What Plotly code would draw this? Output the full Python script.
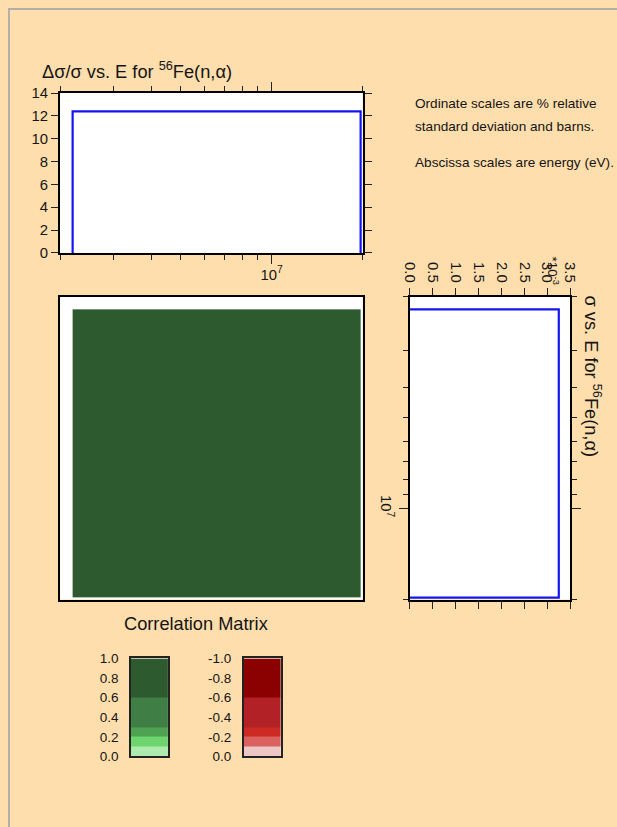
import math
import plotly.graph_objects as go

# ---- data -------------------------------------------------------------
# group boundaries (eV) of the single covariance group
energy_edges = [2.2e6, 1.97e7]
# relative standard deviation (%) in each group
rel_std_pct = [12.4]
# cross section (barns) in each group
xs_barns = [3.25e-3]
# correlation matrix for the groups
correlation = [[1.0]]

# colour key levels and colours
pos_levels = [0.0, 0.1, 0.2, 0.3, 0.6, 1.0]
pos_colors = ["#AEEAAE", "#6ED46E", "#4FA252", "#3F7F46", "#2D5A2E"]
neg_levels = [-1.0, -0.6, -0.3, -0.2, -0.1, 0.0]
neg_colors = ["#8B0000", "#B22125", "#CC2A22", "#DB6060", "#EEC6C6"]
pos_ticks = [0.0, 0.2, 0.4, 0.6, 0.8, 1.0]
neg_ticks = [0.0, -0.2, -0.4, -0.6, -0.8, -1.0]

e_lo, e_hi = 2.0e6, 2.0e7
minor_e = [2e6, 3e6, 4e6, 5e6, 6e6, 7e6, 8e6, 9e6, 2e7]

# page layout: sheet coordinates are converted to figure pixels,
# allowing for the 8 px body margin around the figure
SX, SY = 0.976, 0.982
OFF = 8
W, H = 625, 840
PAGE = "#FFDEAD"
FONT = "Liberation Sans, Arial, sans-serif"
INK = "#151515"


def px(x):
    return (x / SX - OFF) / W


def py(y):
    return 1 - (y / SY - OFF) / H


def fs(size):
    return size / SX


# discrete colour scale over [-1, 1]
bounds = neg_levels + pos_levels[1:]
colors = neg_colors + pos_colors
cscale = []
for i, c in enumerate(colors):
    cscale.append([(bounds[i] + 1) / 2, c])
    cscale.append([(bounds[i + 1] + 1) / 2, c])

fig = go.Figure()

# step outline of relative uncertainty
sx, sy = [], []
for i, v in enumerate(rel_std_pct):
    a, b = energy_edges[i], energy_edges[i + 1]
    sx += [a, a, b, b]
    sy += [0, v, v, 0]
fig.add_trace(go.Scatter(x=sx, y=sy, mode="lines",
                         line=dict(color="#1414F0", width=2.2),
                         xaxis="x", yaxis="y", hoverinfo="skip"))

# correlation matrix
fig.add_trace(go.Heatmap(z=correlation, x=energy_edges, y=energy_edges,
                         zmin=-1, zmax=1, colorscale=cscale, showscale=False,
                         xaxis="x2", yaxis="y2", hoverinfo="skip"))

# cross section, energy running downward
cx, cy = [], []
for i, v in enumerate(xs_barns):
    a, b = energy_edges[i], energy_edges[i + 1]
    cx += [0, v, v, 0]
    cy += [a, a, b, b]
fig.add_trace(go.Scatter(x=cx, y=cy, mode="lines",
                         line=dict(color="#1414F0", width=2.2),
                         xaxis="x3", yaxis="y3", hoverinfo="skip"))

# colour keys
pz = [[(pos_levels[i] + pos_levels[i + 1]) / 2] for i in range(len(pos_colors))]
nz = [[(neg_levels[i] + neg_levels[i + 1]) / 2] for i in range(len(neg_colors))]
fig.add_trace(go.Heatmap(z=pz, x=[0, 1], y=pos_levels, zmin=-1, zmax=1,
                         colorscale=cscale, showscale=False,
                         xaxis="x4", yaxis="y4", hoverinfo="skip"))
fig.add_trace(go.Heatmap(z=nz, x=[0, 1], y=neg_levels, zmin=-1, zmax=1,
                         colorscale=cscale, showscale=False,
                         xaxis="x5", yaxis="y5", hoverinfo="skip"))

tickfont = dict(family=FONT, size=fs(14.5), color=INK)
frame = dict(showline=True, linecolor="black", linewidth=2, mirror="ticks",
             showgrid=False, zeroline=False, tickcolor="#222", tickwidth=1.3,
             tickfont=tickfont)
lg = [math.log10(e_lo), math.log10(e_hi)]
e_minor = dict(tickvals=minor_e, ticklen=5, tickcolor="#222", tickwidth=1.3,
               showgrid=False)

top_x = [px(60), px(363)]
mat_y = [py(600), py(297)]
key_font = dict(family=FONT, size=fs(13.2), color=INK)

fig.update_layout(
    width=W, height=H, margin=dict(l=0, r=0, t=0, b=0),
    paper_bgcolor=PAGE, plot_bgcolor="white", showlegend=False,
    font=dict(family=FONT, color=INK),
    xaxis=dict(domain=top_x, anchor="y", type="log", range=lg,
               ticks="outside", ticklen=9, tickvals=[1e7],
               ticktext=["10<sup>7</sup>"], minor=e_minor,
               ticklabelstandoff=-2, **frame),
    yaxis=dict(domain=[py(253), py(93)], anchor="x", range=[0, 14],
               tickvals=[0, 2, 4, 6, 8, 10, 12, 14], ticks="outside",
               ticklen=7, **frame),
    xaxis2=dict(domain=top_x, anchor="y2", type="log", range=lg,
                showticklabels=False, ticks="", showline=True,
                linecolor="black", linewidth=2, mirror=True,
                showgrid=False, zeroline=False),
    yaxis2=dict(domain=mat_y, anchor="x2", type="log", range=lg[::-1],
                showticklabels=False, ticks="", showline=True,
                linecolor="black", linewidth=2, mirror=True,
                showgrid=False, zeroline=False),
    xaxis3=dict(domain=[px(410), px(571)], anchor="y3", side="top",
                range=[0, 3.5e-3],
                tickvals=[0, 0.5e-3, 1e-3, 1.5e-3, 2e-3, 2.5e-3, 3e-3, 3.5e-3],
                ticktext=["0.0", "0.5", "1.0", "1.5", "2.0", "2.5", "3.0", "3.5"],
                tickangle=90, ticks="outside", ticklen=7, **frame),
    yaxis3=dict(domain=mat_y, anchor="x3", type="log", range=lg[::-1],
                ticks="outside", ticklen=9, tickvals=[1e7],
                ticktext=["10<sup>7</sup>"], tickangle=90, minor=e_minor,
                **frame),
    xaxis4=dict(domain=[px(131), px(168)], anchor="y4", range=[0, 1],
                showticklabels=False, ticks="", showline=True,
                linecolor="#222", linewidth=1.5, mirror=True,
                showgrid=False, zeroline=False),
    yaxis4=dict(domain=[py(757), py(659)], anchor="x4", range=[0, 1],
                tickvals=pos_ticks, ticktext=[f"{t:.1f}" for t in pos_ticks],
                ticks="", ticklabelstandoff=8, showline=True,
                linecolor="#222", linewidth=1.5, mirror=True,
                showgrid=False, zeroline=False, tickfont=key_font),
    xaxis5=dict(domain=[px(244), px(281)], anchor="y5", range=[0, 1],
                showticklabels=False, ticks="", showline=True,
                linecolor="#222", linewidth=1.5, mirror=True,
                showgrid=False, zeroline=False),
    yaxis5=dict(domain=[py(757), py(659)], anchor="x5", range=[0, -1],
                tickvals=neg_ticks,
                ticktext=["0.0" if t == 0 else f"{t:.1f}" for t in neg_ticks],
                ticks="", ticklabelstandoff=8, showline=True,
                linecolor="#222", linewidth=1.5, mirror=True,
                showgrid=False, zeroline=False, tickfont=key_font),
)

# shadowed top and left edges of the page sheet
fig.add_shape(type="line", xref="paper", yref="paper", layer="below",
              x0=0, x1=1, y0=1 - 1 / H, y1=1 - 1 / H,
              line=dict(color="#B3AFA8", width=2))
fig.add_shape(type="line", xref="paper", yref="paper", layer="below",
              x0=1 / W, x1=1 / W, y0=0, y1=1,
              line=dict(color="#B3AFA8", width=2))

ann = dict(xref="paper", yref="paper", showarrow=False,
           font=dict(family=FONT, size=fs(17.8), color=INK))
fig.add_annotation(text="\u0394\u03c3/\u03c3 vs. E for <sup>56</sup>Fe(n,\u03b1)",
                   x=px(40), y=py(70), xanchor="left", yanchor="middle", **ann)
fig.add_annotation(text="\u03c3 vs. E for <sup>56</sup>Fe(n,\u03b1)",
                   x=px(594), y=py(377), xanchor="center", yanchor="middle",
                   textangle=90, **ann)
fig.add_annotation(text="Correlation Matrix", x=px(196), y=py(624),
                   xanchor="center", yanchor="middle", **ann)
fig.add_annotation(text="*10<sup>-3</sup>", x=px(553), y=py(271),
                   xanchor="center", yanchor="middle", textangle=90,
                   xref="paper", yref="paper", showarrow=False,
                   font=dict(family=FONT, size=fs(13), color=INK))

note = dict(xref="paper", yref="paper", showarrow=False, xanchor="left",
            yanchor="middle", font=dict(family=FONT, size=fs(13.3), color=INK))
fig.add_annotation(text="Ordinate scales are % relative", x=px(413), y=py(103), **note)
fig.add_annotation(text="standard deviation and barns.", x=px(413), y=py(126), **note)
fig.add_annotation(text="Abscissa scales are energy (eV).", x=px(413), y=py(163), **note)

fig.write_html("out.html")
